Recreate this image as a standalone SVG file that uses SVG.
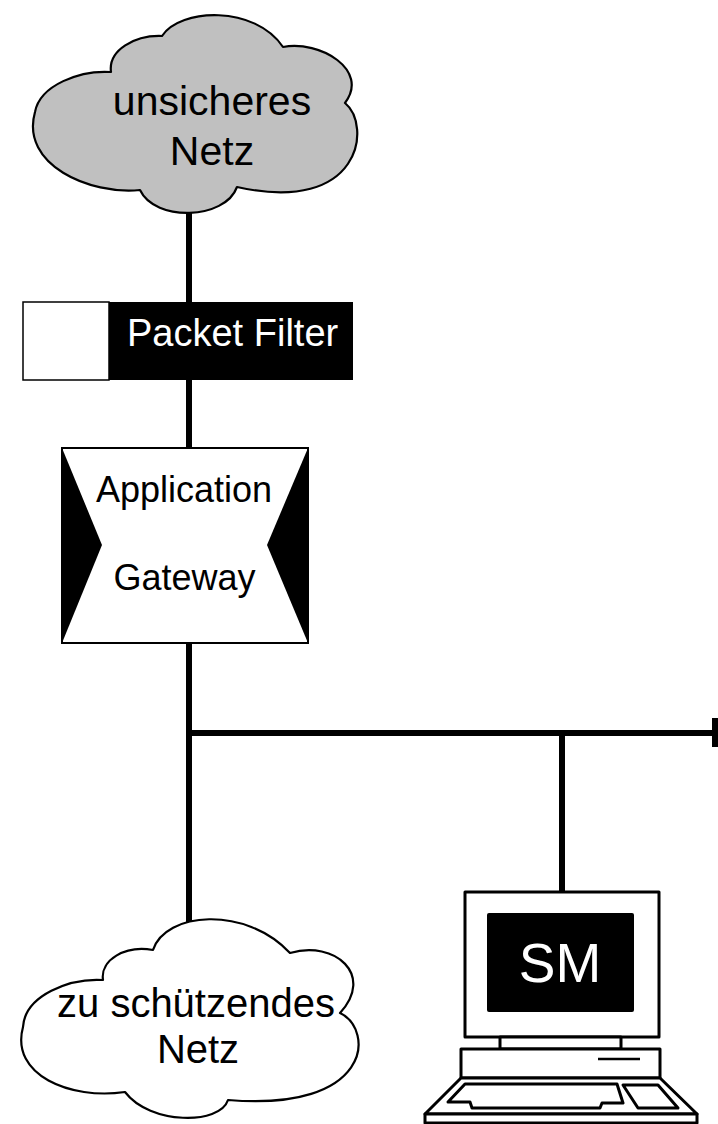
<svg xmlns="http://www.w3.org/2000/svg" width="718" height="1124" viewBox="0 0 718 1124">
<style>
.lbl{font-family:"Liberation Sans",Arial,sans-serif;fill:#000}
.wl{font-family:"Liberation Sans",Arial,sans-serif;fill:#fff}
.wire{stroke:#000;stroke-width:6;fill:none}
.thin{stroke:#000;stroke-width:3;fill:#fff;stroke-linejoin:round}
</style>
<rect width="718" height="1124" fill="#fff"/>
<g id="connectors">
<line class="wire" x1="189" y1="212" x2="189" y2="302"/>
<line class="wire" x1="189" y1="380" x2="189" y2="448"/>
<line class="wire" x1="189" y1="643" x2="189" y2="922"/>
<line class="wire" x1="189" y1="733" x2="715" y2="733"/>
<line class="wire" x1="715" y1="718" x2="715" y2="747"/>
<line class="wire" x1="562" y1="733" x2="562" y2="892"/>
</g>
<g id="unsicheres-netz">
<path d="M 35,112 C 40,85 80,70 111,72 C 108,50 135,35 162,36 C 180,8 255,5 283,47 C 320,40 370,70 345,103 C 372,125 362,215 237,187 C 225,220 155,222 140,190 C 90,195 20,165 35,112 Z" fill="#c0c0c0" stroke="#000" stroke-width="2.2" stroke-linejoin="round"/>
<text class="lbl" font-size="41" text-anchor="middle" x="212" y="115">unsicheres</text>
<text class="lbl" font-size="41" text-anchor="middle" x="212" y="165">Netz</text>
</g>
<g id="packet-filter">
<rect x="23" y="302" width="86" height="78" fill="#fff" stroke="#000" stroke-width="1.5"/>
<rect x="109" y="302" width="244" height="78" fill="#000"/>
<text class="wl" font-size="38" x="127" y="346">Packet Filter</text>
</g>
<g id="application-gateway">
<rect x="62" y="448" width="246" height="195" fill="#fff" stroke="#000" stroke-width="2"/>
<polygon points="62,448 102,545 62,643" fill="#000"/>
<polygon points="308,448 267,545 308,643" fill="#000"/>
<text class="lbl" font-size="36" text-anchor="middle" x="184" y="502">Application</text>
<text class="lbl" font-size="36" text-anchor="middle" x="184.5" y="590">Gateway</text>
</g>
<g id="zu-schuetzendes-netz">
<path d="M 23,1027 C 25,995 70,978 103,980 C 100,960 125,945 153,950 C 165,912 245,905 290,953 C 335,940 375,975 340,1013 C 375,1030 372,1112 228,1100 C 220,1125 150,1125 125,1092 C 70,1100 10,1075 23,1027 Z" fill="#fff" stroke="#000" stroke-width="2.2" stroke-linejoin="round"/>
<text class="lbl" font-size="40" text-anchor="middle" x="196" y="1017">zu schützendes</text>
<text class="lbl" font-size="40" text-anchor="middle" x="198" y="1063">Netz</text>
</g>
<g id="sm-computer">
<rect class="thin" x="465" y="892" width="194" height="145"/>
<rect x="487" y="913" width="147" height="99" rx="2" fill="#000"/>
<text class="wl" font-size="55" text-anchor="middle" x="560" y="982">SM</text>
<rect class="thin" x="500" y="1037" width="121" height="12"/>
<rect class="thin" x="461" y="1049" width="199" height="29"/>
<line x1="598" y1="1059" x2="640" y2="1059" stroke="#000" stroke-width="2.5"/>
<polygon class="thin" points="461,1078 660,1078 697,1114 425,1114"/>
<rect class="thin" x="425" y="1114" width="272" height="9"/>
<polygon class="thin" points="465,1084 617,1084 623,1103 602,1103 600,1108 472,1108 470,1102 448,1102"/>
<polygon class="thin" points="623,1085 658,1085 678,1108 638,1108"/>
</g>
</svg>
